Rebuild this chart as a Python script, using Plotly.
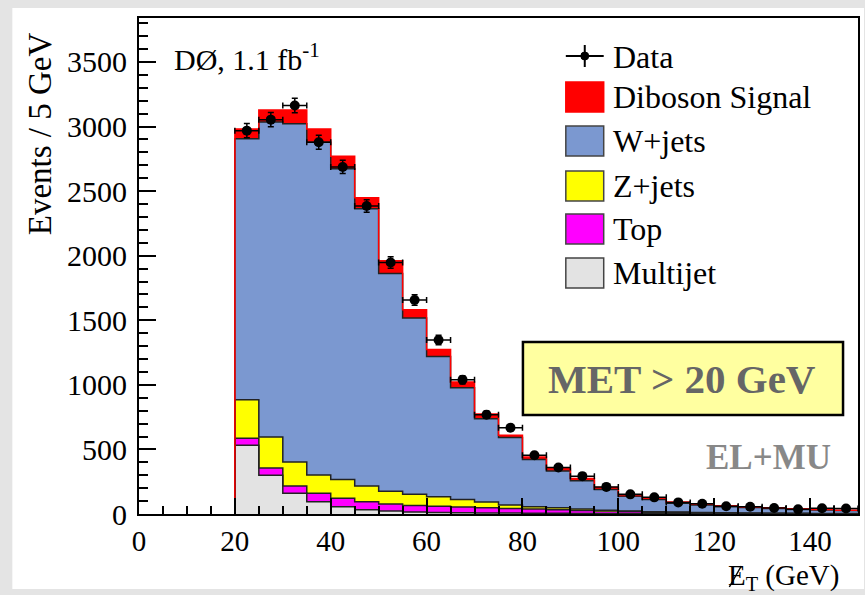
import numpy as np
import plotly.graph_objects as go

# ---------------- data (bins of 5 GeV from 20 to 150) ----------------
bin_edges = list(range(20, 155, 5))
multijet = [532, 300, 160, 95, 56, 32, 24, 16, 12, 10, 8, 7, 6, 5, 4, 3, 3, 2, 2, 1, 1, 1, 1, 1, 0, 0]
top      = [55, 57, 57, 65, 65, 63, 54, 50, 48, 44, 40, 36, 32, 28, 24, 20, 16, 12, 10, 8, 6, 5, 4, 3, 2, 2]
zjets    = [298, 239, 186, 141, 146, 121, 99, 86, 73, 59, 44, 27, 19, 15, 10, 7, 5, 4, 3, 2, 2, 1, 1, 1, 1, 1]
wjets    = [2021, 2438, 2619, 2577, 2405, 2147, 1685, 1365, 1086, 864, 646, 522, 365, 284, 219, 160,
            115, 95, 68, 59, 48, 43, 37, 30, 28, 24]
diboson  = [74, 93, 105, 102, 98, 85, 98, 64, 54, 44, 37, 17, 20, 20, 18, 16, 11, 10, 9, 7, 6, 5, 4, 4, 3, 3]
data     = [2968, 3053, 3163, 2878, 2687, 2384, 1947, 1657, 1347, 1039, 769, 668, 455, 360, 293, 210,
            152, 129, 90, 80, 60, 56, 47, 36, 44, 42]

x_ticks = [0, 20, 40, 60, 80, 100, 120, 140]
y_ticks = [0, 500, 1000, 1500, 2000, 2500, 3000, 3500]

components = [
    ("Multijet", multijet, "#e3e3e3", "#222222"),
    ("Top", top, "#ff00ff", "#222222"),
    ("Z+jets", zjets, "#ffff00", "#222222"),
    ("W+jets", wjets, "#7b98d0", "#222222"),
    ("Diboson Signal", diboson, "#ff0000", "#ff0000"),
]

edges = np.array(bin_edges, dtype=float)
centers = (edges[:-1] + edges[1:]) / 2
widths = np.diff(edges)

SERIF = "Liberation Serif"

fig = go.Figure()

# stacked filled histograms
for name, vals, fill, _ in components:
    fig.add_trace(go.Bar(x=centers, y=vals, width=widths, marker=dict(color=fill, line=dict(width=0)),
                         name=name, showlegend=False, hoverinfo="skip"))

# step outlines of the cumulative histograms
cum = np.zeros(len(centers))
for name, vals, fill, lcol in components:
    cum = cum + np.array(vals, dtype=float)
    xs = np.concatenate([[edges[0]], edges])
    ys = np.concatenate([[0.0], cum, [cum[-1]]])
    fig.add_trace(go.Scatter(x=xs, y=ys, mode="lines", line=dict(shape="hv", color=lcol, width=1.5),
                             showlegend=False, hoverinfo="skip"))

# data points
fig.add_trace(go.Scatter(
    x=centers, y=data, mode="markers", name="Data", showlegend=False,
    marker=dict(color="black", size=10),
    error_y=dict(type="data", array=np.sqrt(np.array(data, dtype=float)), color="black", thickness=1.5, width=3),
    error_x=dict(type="data", array=widths / 2, color="black", thickness=1.5, width=3),
))

# ---------------- layout ----------------
W, H = 865, 595
L, R, T, B = 139, 5, 18, 81
pw, ph = W - L - R, H - T - B

def px(xp):
    return (xp - L) / pw

def py(yp):
    return (H - B - yp) / ph

shapes = []
annotations = []

# page background frame (light gray border, white inner sheet)
shapes.append(dict(type="rect", xref="paper", yref="paper", x0=px(12), x1=px(866), y0=py(589), y1=py(8),
                   fillcolor="white", line=dict(width=0), layer="below"))

# legend (drawn manually to reproduce the ROOT look)
leg_x0, leg_x1 = 567, 605
text_x = 612
LEG_SIZE = 32
# Data entry
shapes.append(dict(type="line", xref="paper", yref="paper", x0=px(leg_x0), x1=px(leg_x1), y0=py(56), y1=py(56),
                   line=dict(color="black", width=2)))
shapes.append(dict(type="line", xref="paper", yref="paper", x0=px(586), x1=px(586), y0=py(45), y1=py(67),
                   line=dict(color="black", width=2)))
shapes.append(dict(type="circle", xref="paper", yref="paper", x0=px(582), x1=px(590), y0=py(52), y1=py(60),
                   fillcolor="black", line=dict(color="black", width=1)))
annotations.append(dict(text="Data", xref="paper", yref="paper", x=px(text_x), y=py(57),
                        xanchor="left", yanchor="middle", showarrow=False,
                        font=dict(family=SERIF, size=LEG_SIZE, color="black")))
legend_rows = [("Diboson Signal", 97), ("W+jets", 141), ("Z+jets", 186), ("Top", 229), ("Multijet", 273)]
comp_map = {c[0]: c for c in components}
for name, yc in legend_rows:
    _, _, fill, _ = comp_map[name]
    border = "#ff0000" if name == "Diboson Signal" else "#444444"
    shapes.append(dict(type="rect", xref="paper", yref="paper", x0=px(leg_x0), x1=px(leg_x1),
                       y0=py(yc + 15), y1=py(yc - 15), fillcolor=fill, line=dict(color=border, width=1.5)))
    annotations.append(dict(text=name, xref="paper", yref="paper", x=px(text_x), y=py(yc),
                            xanchor="left", yanchor="middle", showarrow=False,
                            font=dict(family=SERIF, size=LEG_SIZE, color="black")))

# experiment label
annotations.append(dict(text="DØ, 1.1 fb<sup>-1</sup>", xref="paper", yref="paper", x=px(172), y=py(57),
                        xanchor="left", yanchor="middle", showarrow=False,
                        font=dict(family=SERIF, size=30, color="black")))

# MET box
shapes.append(dict(type="rect", xref="paper", yref="paper", x0=px(524), x1=px(845), y0=py(415), y1=py(342),
                   fillcolor="#ffffa0", line=dict(color="black", width=2.5)))
annotations.append(dict(text="<b>MET &gt; 20 GeV</b>", xref="paper", yref="paper", x=px(684), y=py(379),
                        xanchor="center", yanchor="middle", showarrow=False,
                        font=dict(family=SERIF, size=41, color="#666666")))
annotations.append(dict(text="<b>EL+MU</b>", xref="paper", yref="paper", x=px(770), y=py(457),
                        xanchor="center", yanchor="middle", showarrow=False,
                        font=dict(family=SERIF, size=35, color="#888888")))

# axis titles
annotations.append(dict(text="Events / 5 GeV", xref="paper", yref="paper", x=px(40), y=py(134),
                        xanchor="center", yanchor="middle", textangle=-90, showarrow=False,
                        font=dict(family=SERIF, size=33, color="black")))
annotations.append(dict(text="E<sub>T</sub> (GeV)", xref="paper", yref="paper", x=px(728), y=py(577),
                        xanchor="left", yanchor="middle", showarrow=False,
                        font=dict(family=SERIF, size=29, color="black")))
# slash through the E (missing transverse energy symbol)
shapes.append(dict(type="line", xref="paper", yref="paper", x0=px(731), x1=px(743), y0=py(587), y1=py(566),
                   line=dict(color="black", width=1.5)))

fig.update_layout(
    width=W, height=H,
    margin=dict(l=L, r=R, t=T, b=B, pad=0),
    paper_bgcolor="#e4e4e4",
    plot_bgcolor="white",
    barmode="stack",
    bargap=0,
    showlegend=False,
    shapes=shapes,
    annotations=annotations,
    font=dict(family=SERIF, size=30, color="black"),
    xaxis=dict(range=[0, 150], tickmode="array", tickvals=x_ticks, ticktext=[str(v) for v in x_ticks],
               ticks="inside", ticklen=16, tickwidth=1.5, tickcolor="black",
               minor=dict(ticks="inside", ticklen=8, dtick=5, tick0=0, tickcolor="black", tickwidth=1.5),
               showline=True, linecolor="black", linewidth=2, mirror=True, showgrid=False, zeroline=False,
               tickfont=dict(family=SERIF, size=29), ticklabelstandoff=0),
    yaxis=dict(range=[0, 3840], tickmode="array", tickvals=y_ticks, ticktext=[str(v) for v in y_ticks],
               ticks="inside", ticklen=17, tickwidth=1.5, tickcolor="black",
               minor=dict(ticks="inside", ticklen=9, dtick=100, tick0=0, tickcolor="black", tickwidth=1.5),
               showline=True, linecolor="black", linewidth=2, mirror=True, showgrid=False, zeroline=False,
               tickfont=dict(family=SERIF, size=30), ticklabelstandoff=4),
)

fig.write_html("out.html")
